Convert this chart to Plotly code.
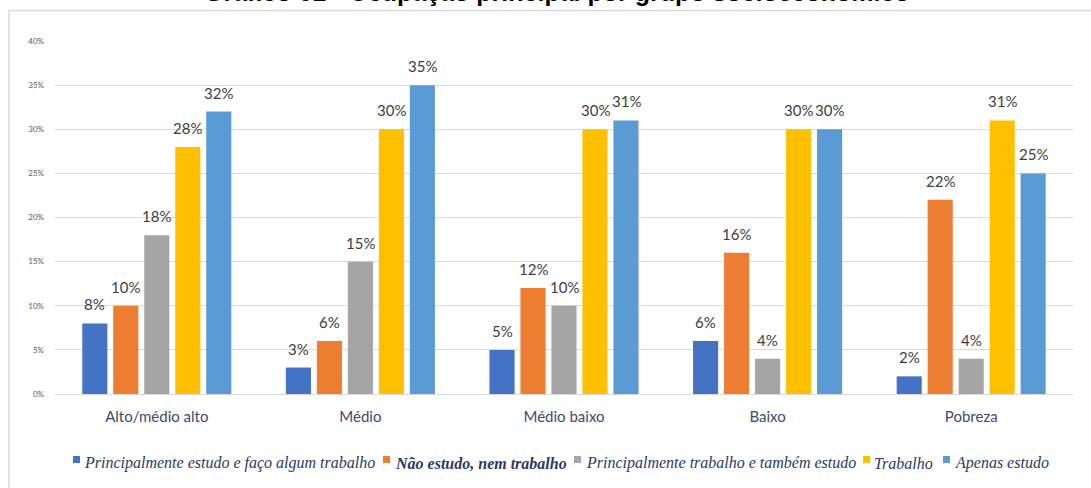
import plotly.graph_objects as go

categories = ["Alto/médio alto", "Médio", "Médio baixo", "Baixo", "Pobreza"]
series_names = [
    "Principalmente estudo e faço algum trabalho",
    "Não estudo, nem trabalho",
    "Principalmente trabalho e também estudo",
    "Trabalho",
    "Apenas estudo",
]
estudo_trabalho = [8, 3, 5, 6, 2]
nem_nem = [10, 6, 12, 16, 22]
trabalho_estudo = [18, 15, 10, 4, 4]
trabalho = [28, 30, 30, 30, 31]
apenas_estudo = [32, 35, 31, 30, 25]
y_ticks = [0, 5, 10, 15, 20, 25, 30, 35, 40]
y_tick_labels = ["0%", "5%", "10%", "15%", "20%", "25%", "30%", "35%", "40%"]
title_text = "Gráfico 01 - Ocupação principal por grupo socioeconômico"

colors = ["#4472C4", "#ED7D31", "#A5A5A5", "#FFC000", "#5B9BD5"]
all_series = [estudo_trabalho, nem_nem, trabalho_estudo, trabalho, apenas_estudo]

W, H = 1091, 488
ML, MR, MT, MB = 55, 18, 41, 94
PW = W - ML - MR
PH = H - MT - MB


def px_x(px):
    return (px - ML) / PW


def px_y(py):
    return (H - MB - py) / PH


fig = go.Figure()
for name, vals, col in zip(series_names, all_series, colors):
    fig.add_trace(go.Bar(
        x=categories, y=vals, name=name,
        marker=dict(color=col, line=dict(width=0)),
        showlegend=False, hoverinfo="skip",
    ))

annotations = []
# data labels above each bar
bar_step = 31
for i, vals in enumerate(all_series):
    for cat, v in zip(categories, vals):
        annotations.append(dict(
            x=cat, y=v, xref="x", yref="y", text=f"{v}%", showarrow=False,
            xanchor="center", yanchor="middle", xshift=(i - 2) * bar_step, yshift=19,
            font=dict(family="Lato", size=15, color="#404040"),
        ))

# title (partially cut at top, as in reference)
annotations.append(dict(
    text="<b>" + title_text + "</b>", xref="paper", yref="paper",
    x=px_x(557), y=1, xanchor="center", yanchor="middle", yshift=49,
    showarrow=False, font=dict(family="Liberation Sans", size=25, color="#000000"),
))

# manual legend
legend_labels = [
    "<i>" + series_names[0] + "</i>",
    "<b><i>" + series_names[1] + "</i></b>",
    "<i>" + series_names[2] + "</i>",
    "<i>" + series_names[3] + "</i>",
    "<i>" + series_names[4] + "</i>",
]
marker_x = [73, 383, 574, 863, 943]
text_x = [84, 395, 586, 874, 955]
shapes = []
for lab, mx, tx, col in zip(legend_labels, marker_x, text_x, colors):
    shapes.append(dict(type="rect", xref="paper", yref="paper",
                       x0=px_x(mx), x1=px_x(mx + 7), y0=px_y(463), y1=px_y(456),
                       fillcolor=col, line=dict(width=0)))
    annotations.append(dict(
        text=lab, xref="paper", yref="paper", x=px_x(tx - 2), y=px_y(463),
        xanchor="left", yanchor="middle", showarrow=False,
        font=dict(family="Liberation Serif", size=16, color="#2B3A62"),
    ))

# chart border (top and left)
shapes.append(dict(type="line", xref="paper", yref="paper", x0=px_x(9), x1=px_x(1095),
                   y0=px_y(10.5), y1=px_y(10.5), line=dict(color="#D9D9D9", width=1.5)))
shapes.append(dict(type="line", xref="paper", yref="paper", x0=px_x(9), x1=px_x(9),
                   y0=px_y(10.5), y1=px_y(492), line=dict(color="#D9D9D9", width=1.5)))

fig.update_layout(
    width=W, height=H,
    margin=dict(l=ML, r=MR, t=MT, b=MB, autoexpand=False),
    paper_bgcolor="white", plot_bgcolor="white",
    barmode="group", bargap=0.239, bargroupgap=0.19,
    showlegend=False, hovermode=False,
    xaxis=dict(
        tickfont=dict(family="Lato", size=15, color="#3D4B6B"),
        showgrid=False, showline=False, ticks="", ticklabelstandoff=12,
        automargin=False,
    ),
    yaxis=dict(
        range=[0, 40], tickvals=y_ticks, ticktext=y_tick_labels,
        tickfont=dict(family="Lato", size=8, color="#595959"),
        showgrid=True, gridcolor="#D9D9D9", gridwidth=1,
        zeroline=True, zerolinecolor="#D9D9D9", zerolinewidth=1,
        showline=False, ticklabelstandoff=10, automargin=False,
    ),
    shapes=shapes,
    annotations=annotations,
)

fig.write_html(
    "out.html",
    config={"displayModeBar": False},
    post_script="document.body.style.margin='0';document.body.style.overflow='hidden';",
)
